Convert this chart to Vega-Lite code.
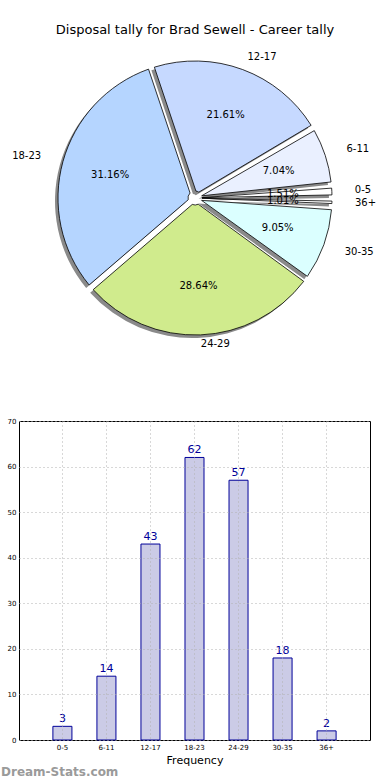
{
  "$schema": "https://vega.github.io/schema/vega-lite/v6.json",
  "padding": {"left": 0, "top": 24, "right": 0, "bottom": 0},
  "background": "white",
  "spacing": 65,
  "config": {"font": "DejaVu Sans", "view": {"stroke": null}},
  "datasets": {
    "tally": [
      {"range": "0-5", "idx": 1, "count": 3, "share": 0.0151},
      {"range": "6-11", "idx": 2, "count": 14, "share": 0.0704},
      {"range": "12-17", "idx": 3, "count": 43, "share": 0.2161},
      {"range": "18-23", "idx": 4, "count": 62, "share": 0.3116},
      {"range": "24-29", "idx": 5, "count": 57, "share": 0.2864},
      {"range": "30-35", "idx": 6, "count": 18, "share": 0.0905},
      {"range": "36+", "idx": 7, "count": 2, "share": 0.0101}
    ]
  },
  "vconcat": [
    {
      "width": 352,
      "height": 306,
      "title": {"text": "Disposal tally for Brad Sewell - Career tally", "fontSize": 13, "fontWeight": "normal", "anchor": "middle", "offset": 8, "color": "black"},
      "data": {"name": "tally"},
      "encoding": {
        "theta": {"field": "count", "type": "quantitative", "stack": true, "scale": {"range": [1.5708, 7.854]}},
        "order": {"field": "idx", "type": "quantitative", "sort": "descending"}
      },
      "layer": [
        {
          "mark": {"type": "arc", "outerRadius": 137, "innerRadius": 7, "padAngle": 0.045, "fill": "#8a8a8a", "xOffset": -3, "yOffset": 3}
        },
        {
          "mark": {"type": "arc", "outerRadius": 137, "innerRadius": 7, "padAngle": 0.045, "stroke": "black", "strokeWidth": 0.8},
          "encoding": {
            "color": {"field": "range", "type": "nominal", "legend": null,
              "scale": {"domain": ["0-5", "6-11", "12-17", "18-23", "24-29", "30-35", "36+"],
                        "range": ["#ffffff", "#eaf0ff", "#c6d9ff", "#b5d5ff", "#d0eb8d", "#dbffff", "#ffffff"]}}
          }
        },
        {
          "mark": {"type": "text", "radius": 88, "fontSize": 10, "color": "black"},
          "encoding": {"text": {"field": "share", "type": "quantitative", "format": ".2%"}}
        },
        {
          "mark": {"type": "text", "fontSize": 10, "color": "black", "baseline": "middle",
                   "radius": {"expr": "146 + 14*abs(cos(PI*(datum.count_start+datum.count_end)/199))"},
                   "align": {"expr": "cos(PI*(datum.count_start+datum.count_end)/199) >= 0 ? 'left' : 'right'"}},
          "encoding": {"text": {"field": "range", "type": "nominal"}}
        }
      ]
    },
    {
      "width": 351,
      "height": 319,
      "data": {"name": "tally"},
      "view": {"stroke": "black", "strokeWidth": 1},
      "title": {"text": "Dream-Stats.com", "orient": "bottom", "anchor": "start", "frame": "bounds", "fontSize": 12, "fontWeight": "bold", "color": "#9a9a9a", "offset": 2},
      "encoding": {
        "x": {"field": "range", "type": "nominal", "sort": ["0-5", "6-11", "12-17", "18-23", "24-29", "30-35", "36+"],
              "scale": {"paddingInner": 0.568, "paddingOuter": 0.77},
              "axis": {"title": "Frequency", "titleFontSize": 11, "titleFontWeight": "normal", "titlePadding": 4, "labelFontSize": 7, "labelAngle": 0, "labelColor": "black", "labelPadding": 3, "ticks": false, "domain": false, "grid": true, "bandPosition": 0.5, "gridDash": [1, 3], "gridColor": "#b0b0b0", "gridOpacity": 1, "zindex": 1}},
        "y": {"field": "count", "type": "quantitative", "scale": {"domain": [0, 70], "nice": false},
              "axis": {"title": null, "values": [0, 10, 20, 30, 40, 50, 60, 70], "labelFontSize": 7, "labelColor": "black", "labelPadding": 3, "ticks": false, "domain": false, "grid": true, "gridDash": [1, 3], "gridColor": "#b0b0b0", "gridOpacity": 1, "minExtent": 18, "maxExtent": 18, "zindex": 1}}
      },
      "layer": [
        {"mark": {"type": "bar", "fill": "#cbcbe6", "stroke": "#000099", "strokeWidth": 1}},
        {"mark": {"type": "text", "baseline": "bottom", "dy": -2, "fontSize": 11, "color": "#000099"},
         "encoding": {"text": {"field": "count", "type": "quantitative"}}}
      ]
    }
  ]
}
